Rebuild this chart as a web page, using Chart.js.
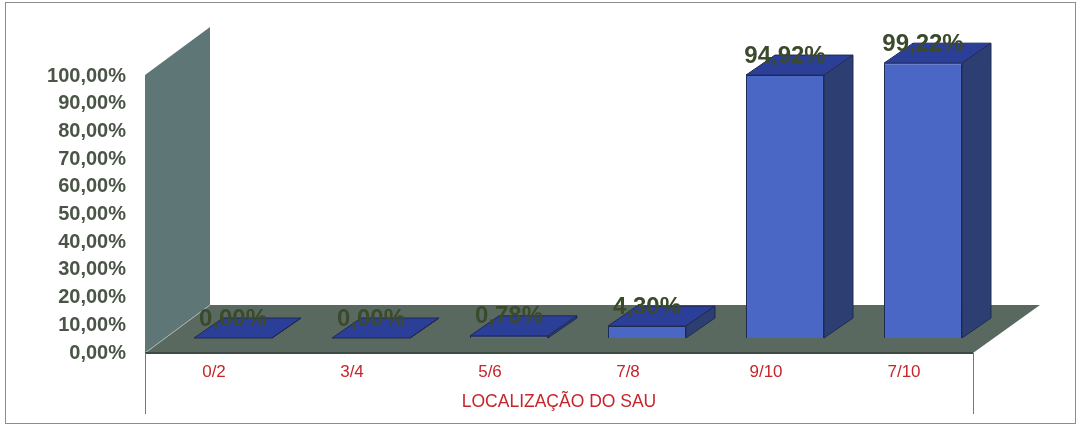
<!DOCTYPE html>
<html>
<head>
<meta charset="utf-8">
<style>
    html, body { margin: 0; padding: 0; background: #fff; }
    #frame { position: absolute; left: 5px; top: 2px; width: 1069px; height: 420px; border: 1px solid #8c8c8c; }
    #wrap { position: absolute; left: 0; top: 0; width: 1081px; height: 425px; filter: blur(0.5px); }
</style>
<script src="https://cdn.jsdelivr.net/npm/chart.js@4"></script>
</head>
<body>
<div id="frame"></div>
<div id="wrap"><canvas id="chart" width="1081" height="425"></canvas></div>
<script>
var categories = ['0/2', '3/4', '5/6', '7/8', '9/10', '7/10'];
var values = [0, 0, 0.78, 4.30, 94.92, 99.22];
var axisTitle = 'LOCALIZAÇÃO DO SAU';

function pct(v) {
    return v.toFixed(2).replace('.', ',') + '%';
}

function poly(ctx, pts, fill, stroke) {
    ctx.beginPath();
    ctx.moveTo(pts[0][0], pts[0][1]);
    for (var i = 1; i < pts.length; i++) ctx.lineTo(pts[i][0], pts[i][1]);
    ctx.closePath();
    ctx.fillStyle = fill;
    ctx.fill();
    if (stroke) {
        ctx.strokeStyle = stroke;
        ctx.lineWidth = 1;
        ctx.stroke();
    }
}

// wall, floor and the fake depth of the bars
var fake3d = {
    id: 'fake3d',
    beforeDatasetsDraw: function (chart) {
        var ctx = chart.ctx, a = chart.chartArea;
        var wallDx = 65, wallDy = 48;
        ctx.save();
        poly(ctx, [[a.left, a.top - 1], [a.left + wallDx, a.top - wallDy - 1], [a.left + wallDx, a.bottom - wallDy], [a.left, a.bottom]], '#5f7676');
        poly(ctx, [[a.left, a.bottom], [a.right, a.bottom], [a.right + 67, a.bottom - wallDy], [a.left + wallDx, a.bottom - wallDy]], '#59695f');
        ctx.strokeStyle = '#aab5b0';
        ctx.lineWidth = 1;
        ctx.beginPath();
        ctx.moveTo(a.left, a.bottom);
        ctx.lineTo(a.left + wallDx, a.bottom - wallDy);
        ctx.stroke();
        ctx.strokeStyle = '#3d4a44';
        ctx.lineWidth = 2;
        ctx.beginPath();
        ctx.moveTo(a.left, a.bottom);
        ctx.lineTo(a.right, a.bottom);
        ctx.stroke();
        ctx.strokeStyle = '#777';
        ctx.lineWidth = 1;
        ctx.beginPath();
        ctx.moveTo(a.left + 0.5, a.bottom);
        ctx.lineTo(a.left + 0.5, a.bottom + 61);
        ctx.moveTo(a.right + 0.5, a.bottom);
        ctx.lineTo(a.right + 0.5, a.bottom + 61);
        ctx.stroke();
        ctx.restore();

        // bars stand inside the floor, not on its front edge
        ctx.save();
        ctx.translate(19, -15);
    },
    afterDatasetsDraw: function (chart) {
        var ctx = chart.ctx;
        var dx = 29, dy = 20;
        chart.getDatasetMeta(0).data.forEach(function (bar) {
            var l = bar.x - bar.width / 2, r = bar.x + bar.width / 2;
            poly(ctx, [[l, bar.y], [l + dx, bar.y - dy], [r + dx, bar.y - dy], [r, bar.y]], '#2b3f98', '#1f2b52');
            poly(ctx, [[r, bar.y], [r + dx, bar.y - dy], [r + dx, bar.base - dy], [r, bar.base]], '#2d3f72', '#1f2b52');
        });
        ctx.font = 'bold 24px "Liberation Sans"';
        ctx.textAlign = 'center';
        ctx.textBaseline = 'middle';
        ctx.fillStyle = '#3b4a2c';
        chart.getDatasetMeta(0).data.forEach(function (bar, i) {
            ctx.fillText(pct(values[i]), bar.x, bar.y - dy + 1);
        });
        ctx.restore();
    }
};

new Chart(document.getElementById('chart'), {
    type: 'bar',
    plugins: [fake3d],
    data: {
        labels: categories,
        datasets: [{
            data: values,
            backgroundColor: '#4b67c6',
            borderColor: '#1f2b52',
            borderWidth: 1,
            barPercentage: 0.565,
            categoryPercentage: 1
        }]
    },
    options: {
        responsive: false,
        animation: false,
        layout: { padding: { left: 0, right: 108, top: 76, bottom: 0 } },
        plugins: { legend: { display: false }, tooltip: { enabled: false } },
        scales: {
            x: {
                afterFit: function (s) { s.height = 72; },
                grid: { display: false, drawTicks: false },
                border: { display: false },
                ticks: { color: '#c5262c', padding: 9, font: { family: 'Liberation Sans', size: 17 } },
                title: {
                    display: true,
                    text: axisTitle,
                    color: '#c5262c',
                    font: { family: 'Liberation Sans', size: 17.5 },
                    padding: { top: 0, bottom: 12 }
                }
            },
            y: {
                min: 0,
                max: 100,
                afterFit: function (s) { s.width = 145; },
                grid: { display: false, drawTicks: false },
                border: { display: false },
                ticks: {
                    stepSize: 10,
                    padding: 19,
                    color: '#4a5548',
                    font: { family: 'Liberation Sans', size: 20, weight: 'bold' },
                    callback: function (v) { return pct(v); }
                }
            }
        }
    }
});
</script>
</body>
</html>
